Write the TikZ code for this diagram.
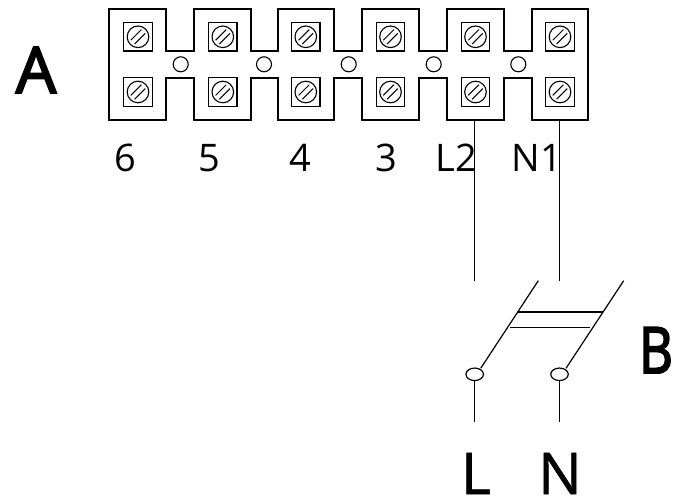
\documentclass[tikz,border=0pt]{standalone}
\usepackage{fontspec}
\usetikzlibrary{shapes.geometric}
\setmainfont{Open Sans}
\newfontfamily\heavyf[FakeBold=3]{Open Sans}
\newfontfamily\medf[FakeBold=1]{Open Sans}
\begin{document}
\begin{tikzpicture}[x=1pt,y=-1pt,line width=1.2pt,
  screwbox/.style={draw,minimum size=28.5pt,inner sep=0pt,outer sep=0pt},
  hole/.style={draw,circle,minimum size=15pt,inner sep=0pt,line width=1.1pt},
  lug/.style={draw,ellipse,minimum width=17.5pt,minimum height=12.5pt,inner sep=0pt},
  small/.style={font=\fontsize{38}{38}\selectfont,anchor=base,inner sep=0pt},
  big/.style={font=\medf\fontsize{57.5}{58}\selectfont,anchor=base,inner sep=0pt},
  huge/.style={font=\heavyf\fontsize{64}{64}\selectfont,anchor=base,inner sep=0pt}]
\useasboundingbox (0,0) rectangle (675,502);
% outline
\draw[line join=miter] (109,9) -- (166,9) -- (166,51) -- (194,51) -- (194,9) -- (251,9) -- (251,51) -- (278,51) -- (278,9) -- (334,9) -- (334,51) -- (362,51) -- (362,9) -- (419,9) -- (419,51) -- (447,51) -- (447,9) -- (504,9) -- (504,51) -- (532,51) -- (532,9) -- (588,9)
  -- (588,120) -- (532,120) -- (532,78) -- (504,78) -- (504,120) -- (447,120) -- (447,78) -- (419,78) -- (419,120) -- (362,120) -- (362,78) -- (334,78) -- (334,120) -- (278,120) -- (278,78) -- (251,78) -- (251,120) -- (194,120) -- (194,78) -- (166,78) -- (166,120) -- (109,120) -- cycle;
% screws
\foreach \n/\x in {a/138,b/222.8,c/305.8,d/390.5,e/475.5,f/560}{
  \foreach \r/\y in {t/36.8,u/92}{
    \node[screwbox] (\n\r) at (\x,\y) {};
    \draw[line width=1.1pt] (\n\r.center) circle[radius=10.8];
    \draw[line width=1pt] ([shift={(-7.2,3.4)}]\n\r.center) -- ([shift={(3.4,-7.2)}]\n\r.center);
    \draw[line width=1pt] ([shift={(-3.4,7.2)}]\n\r.center) -- ([shift={(7.2,-3.4)}]\n\r.center);
  }
}
% holes
\foreach \n/\x in {1/180.7,2/264,3/348.7,4/433.7,5/518.3}{
  \node[hole] (h\n) at (\x,64.3) {};
}
% labels
\node[small] (l6) at (125,171.5) {6};
\node[small] (l5) at (209,171.5) {5};
\node[small] (l4) at (300,171.5) {4};
\node[small] (l3) at (386,171.5) {3};
\node[small] (l2) at (456,171.5) {L2};
\node[small] (l1) at (537,171.5) {N1};
\node[huge] (la) at (36,93) {A};
\node[huge] (lb) at (656,373) {\scalebox{.82}[1]{B}};
\node[big] (ll) at (476,494) {L};
\node[big] (ln) at (560,494) {N};
% wiring
\coordinate (w1) at (474.7,120);
\coordinate (w2) at (559.5,120);
\coordinate (w1e) at (474.7,281);
\coordinate (w2e) at (559.5,281);
\draw (w1) -- (w1e);
\draw (w2) -- (w2e);
% switch
\node[lug] (s1) at (474.7,374.3) {};
\node[lug] (s2) at (559.5,374.3) {};
\coordinate (p1) at (538.3,280.7);
\coordinate (p2) at (623.7,280.7);
\coordinate (q1) at (480.7,368.3);
\coordinate (q2) at (566,368.3);
\draw (q1) -- (p1);
\draw (q2) -- (p2);
\coordinate (b1) at (518.3,312);
\coordinate (b2) at (602.7,312);
\coordinate (b3) at (510,327.7);
\coordinate (b4) at (590,327.7);
\draw (b1) -- (b2);
\draw (b3) -- (b4);
\coordinate (o1) at (474.7,421.7);
\coordinate (o2) at (559.5,421.7);
\draw (s1) -- (o1);
\draw (s2) -- (o2);
\end{tikzpicture}
\end{document}
